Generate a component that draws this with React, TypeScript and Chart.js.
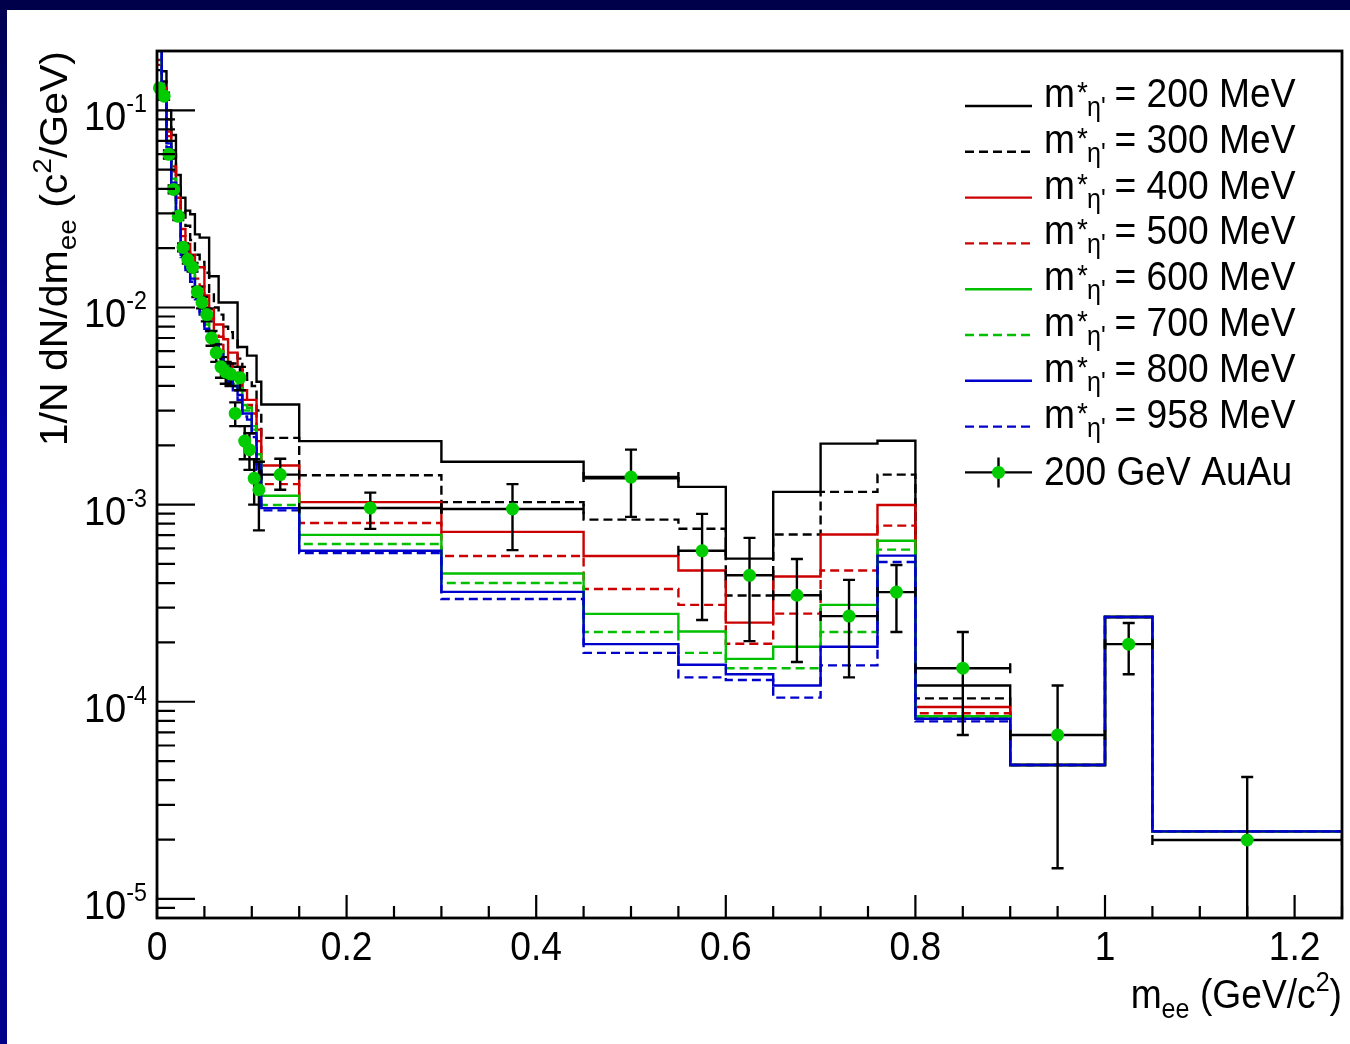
import React, { useEffect, useRef } from 'react';
import { Chart, registerables } from 'chart.js';

Chart.register(...registerables);

// Bin edges in m_ee (GeV/c^2), shared by the model histograms and the measured points
const binEdges = [
  0, 0.005, 0.01, 0.015, 0.02, 0.025, 0.03, 0.035, 0.04, 0.045, 0.05, 0.055, 0.06, 0.065, 0.07,
  0.075, 0.08, 0.085, 0.09, 0.095, 0.1, 0.105, 0.11, 0.15, 0.3, 0.45, 0.55, 0.6, 0.65, 0.7, 0.76,
  0.8, 0.9, 1.0, 1.05, 1.25,
];

// Cocktail yields 1/N dN/dm_ee for each in-medium eta' mass
const m200 = [
  0.13, 0.158, 0.1, 0.075, 0.047, 0.036, 0.031, 0.0297, 0.0235, 0.0226, 0.0226, 0.0144, 0.0144,
  0.0106, 0.0106, 0.0106, 0.0106, 0.0063, 0.0063, 0.0057, 0.0057, 0.0042,
  3.22e-3, 2.1e-3, 1.65e-3, 1.36e-3, 1.23e-3, 5.32e-4, 1.16e-3, 2.04e-3, 2.11e-3, 1.21e-4, 4.78e-5, 2.69e-4, 2.2e-5,
];
const m300 = [
  0.16, 0.14, 0.09, 0.06, 0.042, 0.031, 0.026, 0.022, 0.0185, 0.017, 0.015, 0.012, 0.01, 0.0092,
  0.008, 0.0075, 0.007, 0.0055, 0.0048, 0.0043, 0.004, 0.003,
  2.18e-3, 1.41e-3, 1.03e-3, 8.39e-4, 7.55e-4, 3.46e-4, 7.05e-4, 1.16e-3, 1.42e-3, 1.04e-4, 4.78e-5, 2.69e-4, 2.2e-5,
];
const m400 = [
  0.17, 0.13, 0.078, 0.052, 0.036, 0.025, 0.021, 0.0185, 0.016, 0.016, 0.0115, 0.0098, 0.0082,
  0.0082, 0.0069, 0.0059, 0.0059, 0.005, 0.0038, 0.0034, 0.0034, 0.0024,
  1.58e-3, 1.03e-3, 7.27e-4, 5.49e-4, 4.63e-4, 2.52e-4, 4.32e-4, 7.05e-4, 9.96e-4, 9.4e-5, 4.78e-5, 2.69e-4, 2.2e-5,
];
const m500 = [
  0.18, 0.128, 0.074, 0.049, 0.034, 0.023, 0.019, 0.0168, 0.014, 0.0128, 0.01, 0.0088, 0.0075,
  0.0071, 0.006, 0.0052, 0.005, 0.0044, 0.0034, 0.0032, 0.0029, 0.0021,
  1.27e-3, 8.07e-4, 5.49e-4, 3.73e-4, 3.1e-4, 1.97e-4, 2.8e-4, 4.63e-4, 7.82e-4, 8.75e-5, 4.78e-5, 2.69e-4, 2.2e-5,
];
const m600 = [
  0.2, 0.125, 0.07, 0.045, 0.031, 0.02, 0.017, 0.015, 0.0122, 0.0102, 0.0085, 0.0076, 0.0068,
  0.006, 0.0053, 0.0046, 0.0043, 0.0039, 0.0032, 0.0031, 0.0025, 0.0018,
  1.11e-3, 7.02e-4, 4.47e-4, 2.79e-4, 2.27e-4, 1.65e-4, 1.9e-4, 3.1e-4, 6.56e-4, 8.45e-5, 4.78e-5, 2.69e-4, 2.2e-5,
];
const m700 = [
  0.21, 0.12, 0.069, 0.044, 0.03, 0.019, 0.0165, 0.0145, 0.0118, 0.0098, 0.0082, 0.0074, 0.0066,
  0.0059, 0.0052, 0.0044, 0.0041, 0.0038, 0.003, 0.003, 0.0024, 0.0017,
  9.96e-4, 6.31e-4, 4.0e-4, 2.26e-4, 1.77e-4, 1.48e-4, 1.48e-4, 2.26e-4, 5.91e-4, 8.3e-5, 4.78e-5, 2.69e-4, 2.2e-5,
];
const m800 = [
  0.24, 0.12, 0.068, 0.043, 0.03, 0.0185, 0.016, 0.014, 0.0115, 0.0095, 0.0078, 0.0072, 0.0065,
  0.0058, 0.005, 0.0042, 0.004, 0.0036, 0.0029, 0.0029, 0.0023, 0.0016,
  9.6e-4, 5.83e-4, 3.61e-4, 1.96e-4, 1.54e-4, 1.38e-4, 1.21e-4, 1.9e-4, 5.51e-4, 8.2e-5, 4.78e-5, 2.69e-4, 2.2e-5,
];
const m958 = [
  0.22, 0.115, 0.065, 0.041, 0.029, 0.018, 0.0155, 0.0135, 0.011, 0.0092, 0.0076, 0.0069, 0.0062,
  0.0055, 0.0048, 0.0041, 0.0038, 0.0034, 0.0028, 0.0027, 0.0022, 0.0015,
  9.35e-4, 5.68e-4, 3.32e-4, 1.77e-4, 1.33e-4, 1.29e-4, 1.05e-4, 1.53e-4, 5.12e-4, 7.95e-5, 4.78e-5, 2.69e-4, 2.2e-5,
];

// 200 GeV Au+Au measurement: bin centres, yields and error-bar ends
const dataX = [
  0.0025, 0.0075, 0.0125, 0.0175, 0.0225, 0.0275, 0.0325, 0.0375, 0.0425, 0.0475, 0.0525, 0.0575,
  0.0625, 0.0675, 0.0725, 0.0775, 0.0825, 0.0875, 0.0925, 0.0975, 0.1025, 0.1075,
  0.13, 0.225, 0.375, 0.5, 0.575, 0.625, 0.675, 0.73, 0.78, 0.85, 0.95, 1.025, 1.15,
];
const dataY = [
  0.13, 0.118, 0.0598, 0.0397, 0.029, 0.0202, 0.0175, 0.016, 0.012, 0.0106, 0.0092, 0.007, 0.0059,
  0.005, 0.0047, 0.0046, 0.0029, 0.0044, 0.0021, 0.0019, 0.00136, 0.00119,
  1.42e-3, 9.62e-4, 9.5e-4, 1.38e-3, 5.83e-4, 4.38e-4, 3.47e-4, 2.72e-4, 3.6e-4, 1.48e-4, 6.78e-5, 1.96e-4, 1.99e-5,
];
const dataYLo = [
  0.125, 0.113, 0.057, 0.038, 0.0278, 0.0193, 0.0167, 0.0152, 0.0113, 0.0099, 0.0085, 0.0064, 0.0053,
  0.0044, 0.0041, 0.004, 0.0025, 0.0038, 0.0017, 0.0015, 0.001, 0.00074,
  1.19e-3, 7.53e-4, 5.88e-4, 8.67e-4, 2.6e-4, 2.03e-4, 1.59e-4, 1.33e-4, 2.26e-4, 6.78e-5, 1.43e-5, 1.38e-4, 1e-6,
];
const dataYHi = [
  0.135, 0.123, 0.0626, 0.0416, 0.0302, 0.0211, 0.0183, 0.0168, 0.0127, 0.0113, 0.0099, 0.0076, 0.0065,
  0.0056, 0.0053, 0.0052, 0.0033, 0.005, 0.0025, 0.0023, 0.0017, 0.00165,
  1.71e-3, 1.15e-3, 1.27e-3, 1.9e-3, 8.98e-4, 6.78e-4, 5.3e-4, 4.15e-4, 4.94e-4, 2.26e-4, 1.21e-4, 2.51e-4, 4.15e-5,
];

// Axis ticks and labels
const xTickValues = [0, 0.2, 0.4, 0.6, 0.8, 1.0, 1.2];
const xTickLabels = ['0', '0.2', '0.4', '0.6', '0.8', '1', '1.2'];
const yDecadeValues = [1e-5, 1e-4, 1e-3, 1e-2, 1e-1];
const yDecadeExponents = ['-5', '-4', '-3', '-2', '-1'];

const massLabels = ['200', '300', '400', '500', '600', '700', '800', '958'];
const dataLabel = '200 GeV AuAu';

const RED = '#cc0000';
const GREEN = '#00c000';
const BLUE = '#0000cc';
const DOT = '#00cc00';
const DASH = [9, 5];
const LINE_W = 2.4;

const series = [
  { mass: massLabels[0], values: m200, color: '#000000', dash: [] as number[] },
  { mass: massLabels[1], values: m300, color: '#000000', dash: DASH },
  { mass: massLabels[2], values: m400, color: RED, dash: [] as number[] },
  { mass: massLabels[3], values: m500, color: RED, dash: DASH },
  { mass: massLabels[4], values: m600, color: GREEN, dash: [] as number[] },
  { mass: massLabels[5], values: m700, color: GREEN, dash: DASH },
  { mass: massLabels[6], values: m800, color: BLUE, dash: [] as number[] },
  { mass: massLabels[7], values: m958, color: BLUE, dash: DASH },
];

const FONT = '"Liberation Sans", Arial, Helvetica, sans-serif';
const SQUEEZE = 0.93;

type Run = { t: string; size: number; dy: number };

function runsWidth(ctx: CanvasRenderingContext2D, runs: Run[], sx: number) {
  let w = 0;
  for (const r of runs) {
    ctx.font = `${r.size}px ${FONT}`;
    w += ctx.measureText(r.t).width * sx;
  }
  return w;
}

function drawRuns(
  ctx: CanvasRenderingContext2D,
  runs: Run[],
  x: number,
  y: number,
  align: 'left' | 'right' | 'center',
  sx: number,
  sy: number,
) {
  const w = runsWidth(ctx, runs, sx);
  let cx = align === 'left' ? x : align === 'right' ? x - w : x - w / 2;
  for (const r of runs) {
    ctx.font = `${r.size}px ${FONT}`;
    const rw = ctx.measureText(r.t).width * sx;
    ctx.save();
    ctx.translate(cx, y + r.dy * sy);
    ctx.scale(sx, sy);
    ctx.textAlign = 'left';
    ctx.textBaseline = 'alphabetic';
    ctx.fillText(r.t, 0, 0);
    ctx.restore();
    cx += rw;
  }
}

// Histogram outline: one horizontal run per bin, joined by vertical steps
function histPoints(values: number[]) {
  const pts: { x: number; y: number }[] = [];
  for (let i = 0; i < values.length; i++) {
    pts.push({ x: binEdges[i], y: values[i] });
    pts.push({ x: binEdges[i + 1], y: values[i] });
  }
  return pts;
}

const backgroundPlugin = {
  id: 'slideBackground',
  beforeDraw(chart: any) {
    const { ctx, width, height } = chart;
    ctx.save();
    ctx.fillStyle = '#ffffff';
    ctx.fillRect(0, 0, width, height);
    const g = ctx.createLinearGradient(0, 0, 0, height);
    g.addColorStop(0, '#000050');
    g.addColorStop(0.55, '#0000c0');
    g.addColorStop(1, '#000088');
    ctx.fillStyle = g;
    ctx.fillRect(0, 0, 7, height);
    ctx.fillStyle = '#00004a';
    ctx.fillRect(0, 0, width, 10);
    ctx.restore();
  },
};

const errorBarPlugin = {
  id: 'errorBars',
  beforeDatasetDraw(chart: any, args: any) {
    if (args.index !== 0) return;
    const { ctx, chartArea: a } = chart;
    const xs = chart.scales.x;
    const ys = chart.scales.y;
    ctx.save();
    ctx.beginPath();
    ctx.rect(a.left, a.top, a.right - a.left, a.bottom - a.top);
    ctx.clip();
    ctx.strokeStyle = '#000000';
    ctx.lineWidth = LINE_W;
    for (let i = 0; i < dataY.length; i++) {
      const px = xs.getPixelForValue(dataX[i]);
      const py = ys.getPixelForValue(dataY[i]);
      const x0 = xs.getPixelForValue(binEdges[i]);
      const x1 = xs.getPixelForValue(binEdges[i + 1]);
      const y0 = ys.getPixelForValue(dataYLo[i]);
      const y1 = ys.getPixelForValue(dataYHi[i]);
      ctx.beginPath();
      ctx.moveTo(x0, py);
      ctx.lineTo(x1, py);
      ctx.moveTo(x0, py - 5);
      ctx.lineTo(x0, py + 5);
      ctx.moveTo(x1, py - 5);
      ctx.lineTo(x1, py + 5);
      ctx.moveTo(px, y0);
      ctx.lineTo(px, y1);
      ctx.moveTo(px - 6, y0);
      ctx.lineTo(px + 6, y0);
      ctx.moveTo(px - 6, y1);
      ctx.lineTo(px + 6, y1);
      ctx.stroke();
    }
    ctx.restore();
  },
};

const framePlugin = {
  id: 'rootFrame',
  afterDatasetsDraw(chart: any) {
    const { ctx, chartArea: a } = chart;
    const xs = chart.scales.x;
    const ys = chart.scales.y;
    ctx.save();
    ctx.strokeStyle = '#000000';
    ctx.fillStyle = '#000000';
    ctx.setLineDash([]);

    // frame
    ctx.lineWidth = 2.8;
    ctx.strokeRect(a.left, a.top, a.right - a.left, a.bottom - a.top);

    // x ticks, pointing into the frame
    ctx.lineWidth = 2.2;
    ctx.beginPath();
    for (let k = 0; k <= 25; k++) {
      const v = k * 0.05;
      const px = xs.getPixelForValue(v);
      const len = k % 4 === 0 ? 23 : 12;
      ctx.moveTo(px, a.bottom);
      ctx.lineTo(px, a.bottom - len);
    }
    // y ticks: decades long, 2..9 short
    const yMin = ys.min;
    const yMax = ys.max;
    for (let e = -6; e <= 0; e++) {
      for (let m = 1; m <= 9; m++) {
        const v = m * Math.pow(10, e);
        if (v < yMin || v > yMax) continue;
        const py = ys.getPixelForValue(v);
        const len = m === 1 ? 38 : 18;
        ctx.moveTo(a.left, py);
        ctx.lineTo(a.left + len, py);
      }
    }
    ctx.stroke();

    // x tick labels
    xTickValues.forEach((v, i) => {
      drawRuns(ctx, [{ t: xTickLabels[i], size: 40, dy: 0 }], xs.getPixelForValue(v), a.bottom + 42, 'center', SQUEEZE, 1);
    });

    // y tick labels 10^n
    yDecadeValues.forEach((v, i) => {
      const py = ys.getPixelForValue(v);
      drawRuns(
        ctx,
        [
          { t: '10', size: 41, dy: 20 },
          { t: yDecadeExponents[i], size: 25, dy: 2 },
        ],
        a.left - 10,
        py,
        'right',
        SQUEEZE,
        1,
      );
    });

    // x axis title
    drawRuns(
      ctx,
      [
        { t: 'm', size: 40, dy: 0 },
        { t: 'ee', size: 27, dy: 10 },
        { t: ' (GeV/c', size: 40, dy: 0 },
        { t: '2', size: 27, dy: -17 },
        { t: ')', size: 40, dy: 0 },
      ],
      a.right,
      a.bottom + 90,
      'right',
      SQUEEZE,
      1,
    );

    // y axis title, rotated
    ctx.save();
    ctx.translate(67, a.top);
    ctx.rotate(-Math.PI / 2);
    drawRuns(
      ctx,
      [
        { t: '1/N dN/dm', size: 41, dy: 0 },
        { t: 'ee', size: 28, dy: 10 },
        { t: ' (c', size: 41, dy: 0 },
        { t: '2', size: 28, dy: -17 },
        { t: '/GeV)', size: 41, dy: 0 },
      ],
      0,
      0,
      'right',
      1,
      SQUEEZE,
    );
    ctx.restore();

    // legend
    const lx0 = 965;
    const lx1 = 1032;
    series.forEach((s, i) => {
      const ly = 106 + i * 45.8;
      ctx.save();
      ctx.strokeStyle = s.color;
      ctx.lineWidth = LINE_W;
      ctx.setLineDash(s.dash);
      ctx.beginPath();
      ctx.moveTo(lx0, ly);
      ctx.lineTo(lx1, ly);
      ctx.stroke();
      ctx.restore();
      drawRuns(ctx, [{ t: 'm', size: 40, dy: 0 }], 1044, ly + 1, 'left', SQUEEZE, 1);
      drawRuns(ctx, [{ t: '*', size: 30, dy: 0 }], 1077, ly - 4, 'left', SQUEEZE, 1);
      drawRuns(ctx, [{ t: "\u03b7'", size: 27, dy: 0 }], 1087, ly + 10, 'left', SQUEEZE, 1);
      drawRuns(ctx, [{ t: `= ${s.mass} MeV`, size: 40, dy: 0 }], 1114.5, ly + 1, 'left', SQUEEZE, 1);
    });
    const dly = 106 + 8 * 45.8;
    ctx.strokeStyle = '#000000';
    ctx.lineWidth = LINE_W;
    ctx.beginPath();
    ctx.moveTo(lx0, dly);
    ctx.lineTo(lx1, dly);
    ctx.moveTo((lx0 + lx1) / 2, dly - 15);
    ctx.lineTo((lx0 + lx1) / 2, dly + 15);
    ctx.stroke();
    ctx.fillStyle = DOT;
    ctx.beginPath();
    ctx.arc((lx0 + lx1) / 2, dly, 6.5, 0, Math.PI * 2);
    ctx.fill();
    ctx.fillStyle = '#000000';
    drawRuns(ctx, [{ t: dataLabel, size: 40, dy: 0 }], 1044, dly + 12.5, 'left', SQUEEZE, 1);

    ctx.restore();
  },
};

export default function App() {
  const canvasRef = useRef<HTMLCanvasElement>(null);

  useEffect(() => {
    const canvas = canvasRef.current;
    if (!canvas) return;

    const histDatasets = series.map((s, i) => ({
      label: `m*eta' = ${s.mass} MeV`,
      data: histPoints(s.values),
      showLine: true,
      borderColor: s.color,
      backgroundColor: s.color,
      borderWidth: LINE_W,
      borderDash: s.dash,
      pointRadius: 0,
      fill: false,
      tension: 0,
      order: series.length - i,
    }));

    const dataDataset = {
      label: dataLabel,
      data: dataX.map((x, i) => ({ x, y: dataY[i] })),
      showLine: false,
      pointRadius: 6.5,
      pointBackgroundColor: DOT,
      pointBorderColor: DOT,
      pointBorderWidth: 0,
      clip: false as any,
      order: 0,
    };

    const chart = new Chart(canvas, {
      type: 'scatter',
      data: { datasets: [dataDataset, ...histDatasets] as any },
      options: {
        responsive: false,
        animation: false,
        devicePixelRatio: 1,
        events: [],
        layout: { padding: { left: 157, top: 51, right: 8, bottom: 126 } },
        plugins: {
          legend: { display: false },
          tooltip: { enabled: false },
          title: { display: false },
        },
        scales: {
          x: { type: 'linear', min: 0, max: 1.25, bounds: 'data', display: false },
          y: { type: 'logarithmic', min: 8e-6, max: 0.2, bounds: 'data', display: false },
        },
      },
      plugins: [backgroundPlugin, errorBarPlugin, framePlugin],
    });

    return () => chart.destroy();
  }, []);

  return (
    <div style={{ position: 'fixed', left: 0, top: 0, width: 1350, height: 1044 }}>
      <canvas ref={canvasRef} width={1350} height={1044} style={{ width: 1350, height: 1044, display: 'block' }} />
    </div>
  );
}
